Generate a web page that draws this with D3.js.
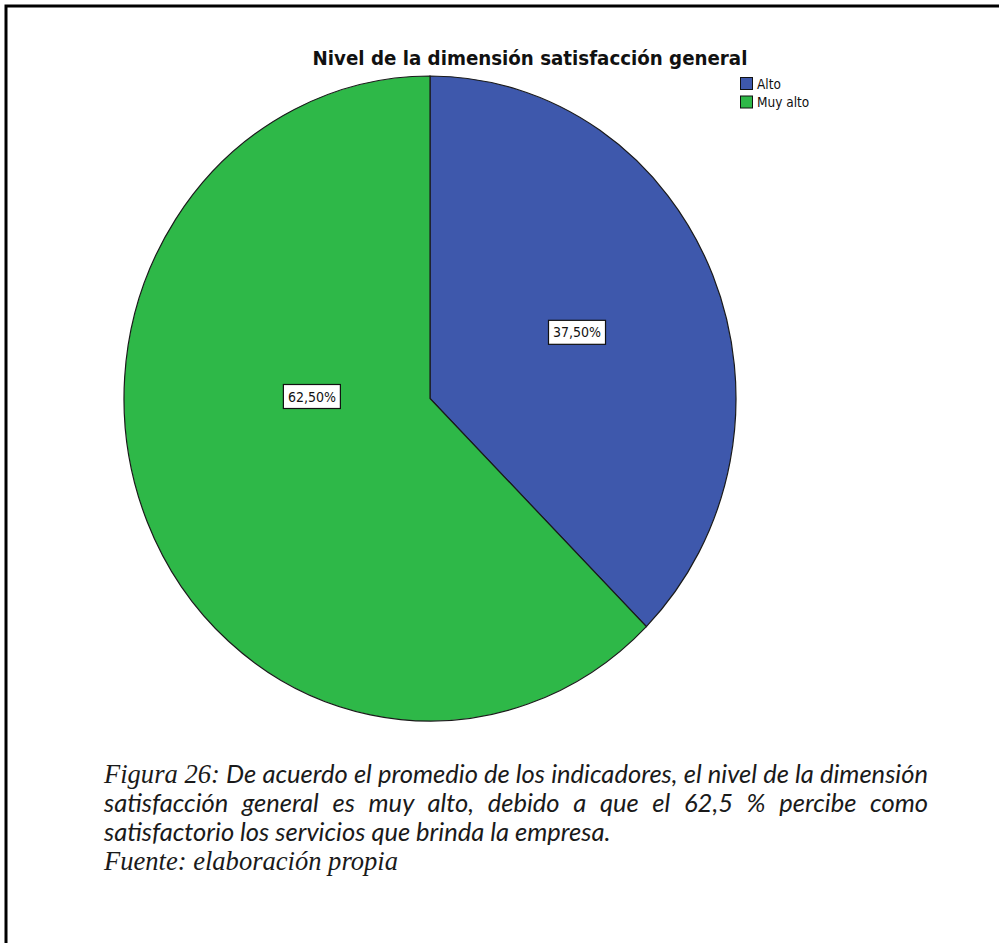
<!DOCTYPE html>
<html>
<head>
<meta charset="utf-8">
<script src="https://cdn.jsdelivr.net/npm/d3@7/dist/d3.min.js"></script>
<style>
  html, body { margin: 0; padding: 0; background: #fff; }
  svg { display: block; }
</style>
</head>
<body>
<svg id="chart" width="999" height="943"></svg>
<script>
// Categories and their shares (percent)
const categories = ["Alto", "Muy alto"];
const shares = [37.5, 62.5];
const valueLabels = ["37,50%", "62,50%"];
const colors = ["#3e58ac", "#2eb848"];

const titleText = "Nivel de la dimensión satisfacción general";
const captionLines = [
  [{t: "Figura 26:", serif: true}, {t: "De acuerdo el promedio de los indicadores, el nivel de la dimensión"}],
  [{t: "satisfacción general es muy alto, debido a que el 62,5 % percibe como"}],
  [{t: "satisfactorio los servicios que brinda la empresa."}],
  [{t: "Fuente: elaboración propia", serif: true}]
];

const svg = d3.select("#chart");

// page frame (top and left edges visible)
svg.append("rect")
  .attr("x", 6).attr("y", 6)
  .attr("width", 1100).attr("height", 1100)
  .attr("fill", "none").attr("stroke", "#000").attr("stroke-width", 3);

// title, sized to its measured span
const title = svg.append("text")
  .attr("x", 530).attr("y", 65)
  .attr("text-anchor", "middle")
  .attr("font-family", "'DejaVu Sans Condensed', 'DejaVu Sans', sans-serif")
  .attr("font-weight", "bold")
  .attr("font-size", 18)
  .attr("fill", "#111")
  .text(titleText);
{
  const w = title.node().getComputedTextLength();
  title.attr("font-size", 18 * 435 / w);
}

// pie (slightly taller than wide)
const cx = 430, cy = 398.5, rx = 306, ry = 322.5;
const pie = d3.pie().sort(null).value(d => d.v);
const slices = pie(categories.map((c, i) => ({c, v: shares[i], label: valueLabels[i], color: colors[i]})));
const arc = d3.arc().innerRadius(0).outerRadius(rx);

const g = svg.append("g").attr("transform", `translate(${cx},${cy})`);
const gp = g.append("g").attr("transform", `scale(1,${ry / rx})`);
gp.selectAll("path").data(slices).join("path")
  .attr("d", arc)
  .attr("fill", d => d.data.color)
  .attr("stroke", "#1a1a1a")
  .attr("stroke-width", 1.2)
  .attr("vector-effect", "non-scaling-stroke");

// value label placement within each slice: fraction along the slice's sweep, and radius fraction
const labelSpots = {"Alto": {t: 0.5, r: 0.52}, "Muy alto": {t: 0.6, r: 0.386}};
slices.forEach(d => {
  const s = labelSpots[d.data.c];
  const a = d.startAngle + s.t * (d.endAngle - d.startAngle);
  const x = Math.sin(a) * s.r * rx;
  const y = -Math.cos(a) * s.r * ry;
  const lg = g.append("g").attr("transform", `translate(${x},${y - 2})`);
  lg.append("rect")
    .attr("x", -28.5).attr("y", -12)
    .attr("width", 57).attr("height", 24)
    .attr("fill", "#fff").attr("stroke", "#111").attr("stroke-width", 1.2);
  lg.append("text")
    .attr("text-anchor", "middle")
    .attr("dy", "0.36em")
    .attr("font-family", "'DejaVu Sans Condensed', 'DejaVu Sans', sans-serif")
    .attr("font-size", 14)
    .attr("fill", "#111")
    .text(d.data.label);
});

// legend
const legend = svg.append("g").attr("transform", "translate(740,77)");
const li = legend.selectAll("g").data(categories).join("g")
  .attr("transform", (d, i) => `translate(0,${i * 18.5})`);
li.append("rect")
  .attr("x", 0.5).attr("y", 0.5).attr("width", 12).attr("height", 12)
  .attr("fill", (d, i) => colors[i]).attr("stroke", "#111").attr("stroke-width", 1);
li.append("text")
  .attr("x", 17).attr("y", 11.5)
  .attr("font-family", "'DejaVu Sans Condensed', 'DejaVu Sans', sans-serif")
  .attr("font-size", 13.5)
  .attr("fill", "#111")
  .text(d => d);

// caption block
const capX = 104, capRight = 928, capY0 = 783, capStep = 29;
const sansFont = "Lato, 'Open Sans', sans-serif";
const serifFont = "'Liberation Serif', 'DejaVu Serif', serif";

function measure(family, size, text) {
  const t = svg.append("text").attr("font-family", family).attr("font-style", "italic")
    .attr("font-size", size).attr("xml:space", "preserve").text(text);
  const w = t.node().getComputedTextLength();
  t.remove();
  return w;
}
// font sizes chosen so the unjustified lines span their widths
let sansSize = 20 * 516 / measure(sansFont, 20, captionLines[2][0].t);
const serifSize = 20 * 294 / measure(serifFont, 20, captionLines[3][0].t);

// keep the first line from running past the right margin
{
  const l = captionLines[0];
  const sp = measure(sansFont, sansSize, "a a") - measure(sansFont, sansSize, "aa");
  const w = measure(serifFont, serifSize, l[0].t) + sp + measure(sansFont, sansSize, l[1].t);
  if (w > capRight - capX - 2) sansSize *= (capRight - capX - 2 - measure(serifFont, serifSize, l[0].t) - sp) / (w - measure(serifFont, serifSize, l[0].t) - sp);
}

captionLines.forEach((line, i) => {
  const y = capY0 + i * capStep;
  const sizeOf = seg => seg.serif ? serifSize : sansSize;
  const famOf = seg => seg.serif ? serifFont : sansFont;
  const widths = line.map(seg => measure(famOf(seg), sizeOf(seg), seg.t));
  const spaceW = measure(sansFont, sansSize, "a a") - measure(sansFont, sansSize, "aa");
  const gaps = line.reduce((n, seg) => n + seg.t.split(" ").length - 1, 0) + line.length - 1;
  const natural = widths.reduce((a, b) => a + b, 0) + (line.length - 1) * spaceW;
  // the first two lines are justified to the block width
  const extra = i < 2 ? Math.max(0, (capRight - capX - natural) / gaps) : 0;
  let x = capX;
  line.forEach((seg, j) => {
    const t = svg.append("text")
      .attr("x", x).attr("y", y)
      .attr("font-family", famOf(seg))
      .attr("font-size", sizeOf(seg))
      .attr("font-style", "italic")
      .attr("fill", "#1a1a1a")
      .style("word-spacing", extra + "px")
      .text(seg.t);
    const nSp = seg.t.split(" ").length - 1;
    x += widths[j] + nSp * extra + spaceW + extra;
  });
});
</script>
</body>
</html>
